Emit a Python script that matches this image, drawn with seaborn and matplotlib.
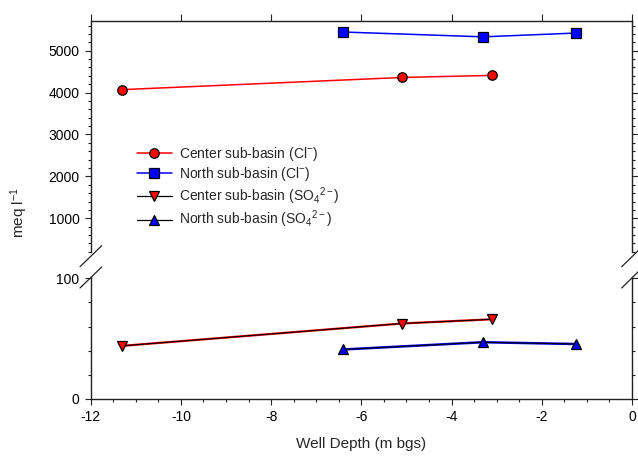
import matplotlib
matplotlib.use("Agg")
import matplotlib.pyplot as plt
from matplotlib.ticker import MultipleLocator, FixedLocator
from matplotlib.lines import Line2D
import seaborn as sns
import pandas as pd

# ---------------- data ----------------
center_depth = [-11.3, -5.1, -3.1]
north_depth = [-6.4, -3.3, -1.25]
center_cl = [4070, 4360, 4410]
north_cl = [5445, 5330, 5420]
center_so4 = [44, 62.5, 66]
north_so4 = [41, 47, 45.5]

labels = ["Center sub-basin (Cl$^{-}$)", "North sub-basin (Cl$^{-}$)",
          "Center sub-basin (SO$_4$$^{2-}$)", "North sub-basin (SO$_4$$^{2-}$)"]
x_label = "Well Depth (m bgs)"
y_label = "meq l$^{-1}$"

sns.set_style("ticks")
plt.rcParams["font.family"] = ["Liberation Sans", "DejaVu Sans"]
plt.rcParams["mathtext.fontset"] = "custom"
plt.rcParams["mathtext.rm"] = "Liberation Sans"
plt.rcParams["mathtext.it"] = "Liberation Sans"
plt.rcParams["mathtext.default"] = "regular"

W, H = 638, 457
fig = plt.figure(figsize=(W / 100, H / 100), dpi=100)

L, R = 90.7, 632
ax_up = fig.add_axes([L / W, 1 - 252 / H, (R - L) / W, (252 - 20.7) / H])
ax_lo = fig.add_axes([L / W, 1 - 399 / H, (R - L) / W, (399 - 277) / H])

df_c = pd.DataFrame({"x": center_depth, "cl": center_cl, "so4": center_so4})
df_n = pd.DataFrame({"x": north_depth, "cl": north_cl, "so4": north_so4})

MS_O, MS_S, MS_T = 6.8, 7.2, 7.6
mk = dict(markeredgecolor="black", markeredgewidth=0.9)
sns.lineplot(data=df_c, x="x", y="cl", ax=ax_up, color="red", lw=1.1,
             marker="o", markersize=MS_O, markerfacecolor="red", **mk)
sns.lineplot(data=df_n, x="x", y="cl", ax=ax_up, color="blue", lw=1.1,
             marker="s", markersize=MS_S, markerfacecolor="blue", **mk)

sns.lineplot(data=df_c, x="x", y="so4", ax=ax_lo, color="red", lw=1.6)
sns.lineplot(data=df_c, x="x", y="so4", ax=ax_lo, color="black", lw=0.8,
             marker="v", markersize=MS_T, markerfacecolor="red", **mk)
sns.lineplot(data=df_n, x="x", y="so4", ax=ax_lo, color="blue", lw=1.8)
sns.lineplot(data=df_n, x="x", y="so4", ax=ax_lo, color="black", lw=0.8,
             marker="^", markersize=MS_T, markerfacecolor="blue", **mk)

for ax in (ax_up, ax_lo):
    ax.set_xlim(-12, 0)
    ax.set_xlabel("")
    ax.set_ylabel("")
    ax.xaxis.set_major_locator(MultipleLocator(2))
    ax.xaxis.set_minor_locator(MultipleLocator(0.5))
    for s in ax.spines.values():
        s.set_linewidth(1.0)
        s.set_color("#222222")
    ax.tick_params(which="both", direction="out", width=0.8, color="#222222",
                   labelsize=10, labelcolor="black")
    ax.tick_params(which="major", length=4.5)
    ax.tick_params(which="minor", length=2.5)

# upper
ax_up.set_ylim(195, 5715)
ax_up.yaxis.set_major_locator(FixedLocator([1000, 2000, 3000, 4000, 5000]))
ax_up.yaxis.set_minor_locator(MultipleLocator(200))
ax_up.spines["bottom"].set_visible(False)
ax_up.tick_params(axis="x", which="both", bottom=False, labelbottom=False)
ax_up.tick_params(axis="x", which="major", top=True, labeltop=False, length=5)
ax_up.tick_params(axis="x", which="minor", top=False)
ax_up.tick_params(axis="y", which="both", left=True, right=True, labelright=False)

# lower
ax_lo.set_ylim(0, 101)
ax_lo.yaxis.set_major_locator(FixedLocator([0, 100]))
ax_lo.yaxis.set_minor_locator(MultipleLocator(20))
ax_lo.spines["top"].set_visible(False)
ax_lo.tick_params(axis="x", which="both", top=False, bottom=True)
ax_lo.tick_params(axis="y", which="both", left=True, right=True, labelright=False)
ax_lo.set_xticks([-12, -10, -8, -6, -4, -2, 0])
ax_lo.set_xticklabels(["-12", "-10", "-8", "-6", "-4", "-2", "0"])

# break marks
def brk(x0, y0, x1, y1):
    fig.add_artist(Line2D([x0 / W, x1 / W], [1 - y0 / H, 1 - y1 / H],
                          color="#222222", lw=0.9))
brk(80, 266.7, 101.7, 245.7)
brk(80, 288, 101.7, 267)
brk(621.7, 266.7, 643, 246)
brk(621.7, 288, 643, 267)

# labels
fig.text(361 / W, 1 - 444 / H, x_label, ha="center", va="center", fontsize=11)
fig.text(19 / W, 1 - 212 / H, y_label, ha="center", va="center",
         rotation=90, fontsize=11)

# legend
handles = [
    Line2D([], [], color="red", lw=1.1, marker="o", markersize=MS_O,
           markerfacecolor="red", **mk),
    Line2D([], [], color="blue", lw=1.1, marker="s", markersize=MS_S,
           markerfacecolor="blue", **mk),
    Line2D([], [], color="black", lw=0.9, marker="v", markersize=MS_T,
           markerfacecolor="red", **mk),
    Line2D([], [], color="black", lw=0.9, marker="^", markersize=MS_T,
           markerfacecolor="blue", **mk),
]
fig.legend(handles, labels, loc="upper left",
           bbox_to_anchor=(137 / W, 1 - 145 / H), frameon=False,
           fontsize=10, borderpad=0, borderaxespad=0, handlelength=2.5,
           handletextpad=0.55, labelspacing=0.15)

fig.savefig("out.png", dpi=100)
